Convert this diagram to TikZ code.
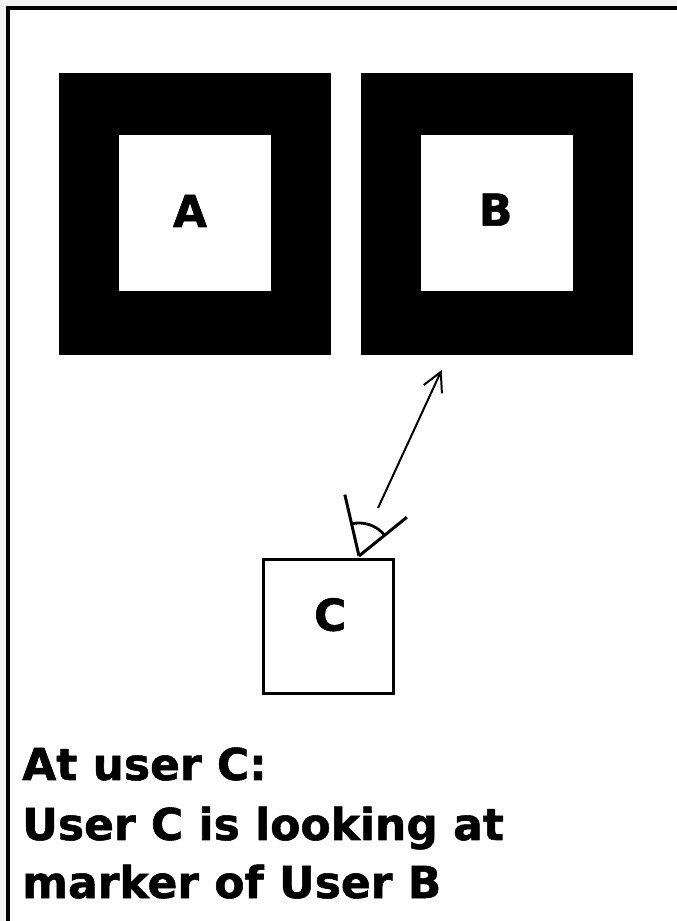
\documentclass[tikz,border=0pt]{standalone}
\usepackage{fontspec}
\setmainfont{DejaVu Sans}[BoldFeatures={FakeBold=1.2}]
\usetikzlibrary{arrows.meta}
\definecolor{paper}{RGB}{242,242,242}
\tikzset{
    letter/.style={font=\bfseries\fontsize{44}{59}\selectfont, inner sep=0pt, anchor=base},
    caption/.style={letter, anchor=base west},
    gaze/.style={line width=2pt, -{Straight Barb[length=19pt,width=20pt]}},
}
\begin{document}
\begin{tikzpicture}[x=1pt,y=1pt]
    \useasboundingbox (0,0) rectangle (677,921);
    % paper and frame
    \fill[paper] (0,0) rectangle (677,921);
    \fill[white] (10,0) rectangle (677,911);
    \draw[line width=4pt] (8,-5) -- (8,913) -- (682,913);
    % markers
    \fill (59,566) rectangle (331,848);
    \fill[white] (119,630) rectangle (271,786);
    \node[letter] (markA) at (190,694) {A};
    \fill (361,566) rectangle (633,848);
    \fill[white] (421,630) rectangle (573,786);
    \node[letter] (markB) at (495.7,695.3) {B};
    % user C
    \node[draw, line width=3.3pt, minimum width=130pt, minimum height=134pt, inner sep=0pt] (userC) at (328.3,294.7) {};
    \node[letter] (labelC) at (330.2,290.3) {C};
    \coordinate (vertex) at (359,365);
    \draw[line width=3pt] (vertex) -- ++(103:63) coordinate (viewL);
    \draw[line width=3pt] (vertex) -- ++(39:61.6) coordinate (viewR);
    \draw[line width=2.8pt] ([shift={(39:33)}]vertex) arc[start angle=39, end angle=103, radius=33];
    \coordinate (gazeStart) at (378,413);
    \coordinate (gazeEnd) at (441.7,551);
    \draw[gaze] (gazeStart) -- (gazeEnd);
    % caption
    \node[caption] (line1) at (22,141) {At user C:};
    \node[caption] (line2) at (22,81) {User C is looking at};
    \node[caption] (line3) at (22,23) {marker of User B};
\end{tikzpicture}
\end{document}
